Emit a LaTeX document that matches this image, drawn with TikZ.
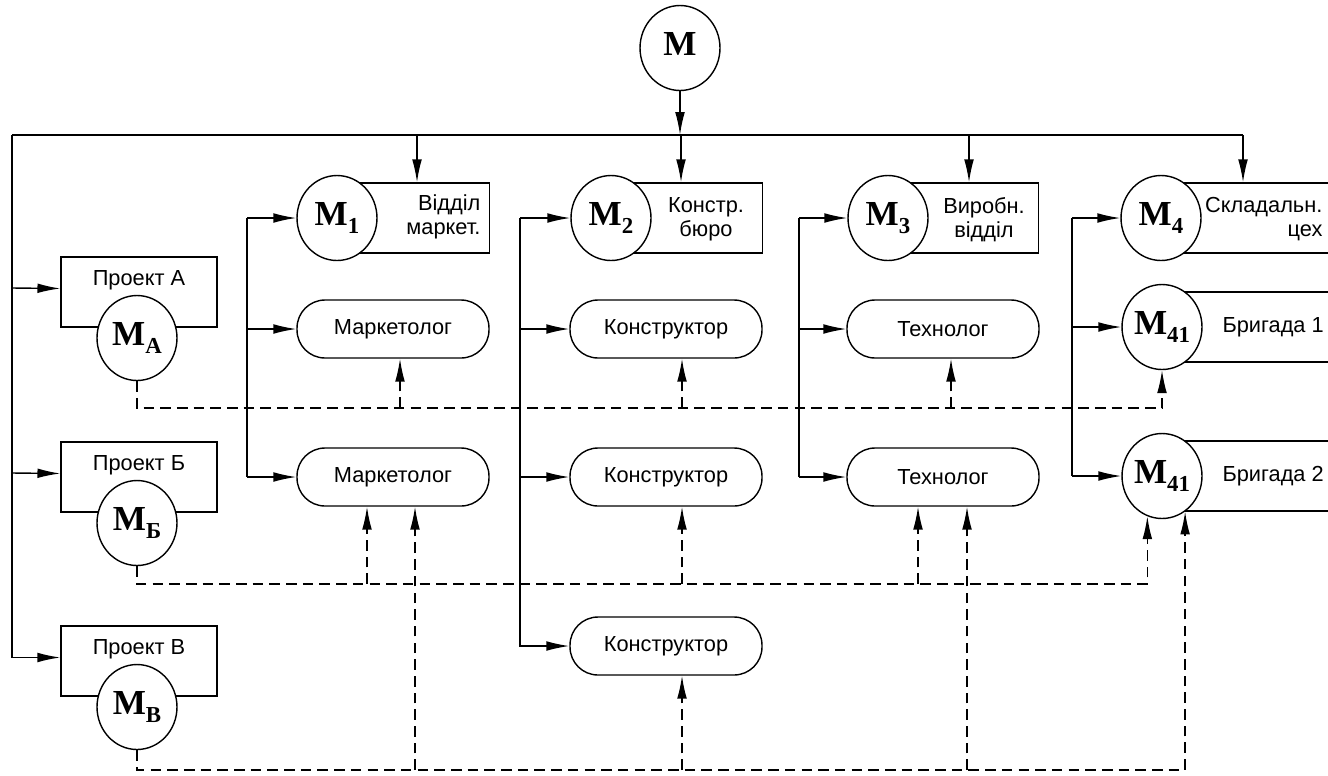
\documentclass[tikz,border=0pt]{standalone}
\usepackage{fontspec}
\setmainfont{Liberation Sans}
\newfontfamily\serifbold{Liberation Serif}
\usetikzlibrary{arrows.meta}
\usetikzlibrary{shapes.geometric,calc}

\newcommand{\mgr}[1]{{\serifbold\bfseries\fontsize{20}{20}\selectfont M\raisebox{-4.5pt}{\fontsize{13}{13}\selectfont #1}}}

\begin{document}
\begin{tikzpicture}[x=0.02cm,y=-0.02cm,line width=0.8pt,
    >={Latex[length=13pt,width=5.5pt]},
    every node/.style={font=\fontsize{12.4}{13.8}\selectfont},
    head/.style={ellipse,draw,fill=white,minimum width=1.6cm,minimum height=1.7cm,inner sep=0pt},
    unit/.style={draw,anchor=west,minimum height=1.4cm,inner sep=0pt},
    worker/.style={draw,fill=white,rounded corners=0.56cm,minimum width=3.84cm,minimum height=1.16cm},
    proj/.style={draw,minimum width=3.12cm,minimum height=1.4cm},
    link/.style={dash pattern=on 6pt off 3.5pt}]

    \useasboundingbox (0,0) rectangle (1328,775);

    % top manager and bus
    \node[head] (M) at (680,48) {\mgr{}};
    \coordinate (busL) at (12,135);
    \coordinate (busR) at (1243,135);
    \draw[->] (M) -- (M |- busL);
    \draw (busL) -- (busR);

    % departments
    \node[unit,minimum width=3.04cm] (d1) at (337,218) {};
    \node[unit,minimum width=3.02cm] (d2) at (611,218) {};
    \node[unit,minimum width=3.00cm] (d3) at (888,218) {};
    \node[unit,minimum width=3.60cm] (d4) at (1161,218) {};
    \node[head] (m1) at (337,218) {\mgr{1}};
    \node[head] (m2) at (611,218) {\mgr{2}};
    \node[head] (m3) at (888,218) {\mgr{3}};
    \node[head] (m4) at (1161,218) {\mgr{4}};
    \node[align=right,anchor=east] (t1) at (487,217) {Відділ\\маркет.};
    \node[align=center] (t2) at (706,219) {Констр.\\бюро};
    \node[align=center] (t3) at (984,220) {Виробн.\\відділ};
    \node[align=right,anchor=east] (t4) at (1329,219) {Складальн.\\цех};

    \foreach \x/\d in {417/d1,681/d2,969/d3,1243/d4}
      \draw[->] (\x,135) -- (\x,135 |- \d.north);

    % staff
    \node[worker] (s1) at (393,329) {Маркетолог};
    \node[worker] (s2) at (666,329) {Конструктор};
    \node[worker] (s3) at (943,329) {Технолог};
    \node[worker] (s4) at (393,477) {Маркетолог};
    \node[worker] (s5) at (666,477) {Конструктор};
    \node[worker] (s6) at (943,477) {Технолог};
    \node[worker] (s7) at (666,646) {Конструктор};

    \node[unit,minimum width=3.6cm] (b1) at (1162,327) {};
    \node[head] (n1) at (1162,327) {\mgr{41}};
    \node[anchor=west] (tb1) at (1216,327) {Бригада 1};
    \node[unit,minimum width=3.6cm] (b2) at (1162,476) {};
    \node[head] (n2) at (1162,476) {\mgr{41}};
    \node[anchor=west] (tb2) at (1216,476) {Бригада 2};

    \coordinate (v1) at (247,0);
    \coordinate (v2) at (520,0);
    \coordinate (v3) at (799,0);
    \coordinate (v4) at (1072,0);
    \foreach \v/\a/\b/\c in {v1/m1/s1/s4,v2/m2/s2/s5,v3/m3/s3/s6,v4/m4/n1/n2} {
      \draw (\v |- \a) -- (\v |- \c);
      \foreach \n in {\a,\b,\c} \draw[->] (\v |- \n) -- (\n);
    }
    \draw[->] (v2 |- s5) |- (s7);

    % projects
    \foreach \n/\y/\s in {A/292/А,B/477/Б,V/661/В} {
      \node[proj] (p\n) at (139,\y) {};
      \node (l\n) at (139,\y-12) {Проект \s};
      \node[head] (m\n) at (137,\y+46) {\mgr{\s}};
    }
    \draw[->] (busL) |- ([yshift=2pt]pV.west);
    \draw[->] (busL |- pA.west) ++(0,-4) -- ([yshift=2pt]pA.west);
    \draw[->] (busL |- pB.west) ++(0,-4) -- ([yshift=2pt]pB.west);

    % project links
    \draw[link,->] (mA.south) |- (n1.south |- 0,408) -- (n1.south);
    \foreach \x/\n in {400/s1,682/s2,951/s3}
      \draw[link,->] (\x,408) -- (\x,408 |- \n.south);
    \draw[link,->] (mB.south) |- (n2.250 |- 0,584) -- (n2.250);
    \foreach \x/\n in {367/s4,682/s5,918/s6}
      \draw[link,->] (\x,584) -- (\x,584 |- \n.south);
    \draw[link,->] (mV.south) |- (n2.303 |- 0,770) -- (n2.303);
    \foreach \x/\n in {415/s4,682/s7,967/s6}
      \draw[link,->] (\x,770) -- (\x,770 |- \n.south);
\end{tikzpicture}
\end{document}
